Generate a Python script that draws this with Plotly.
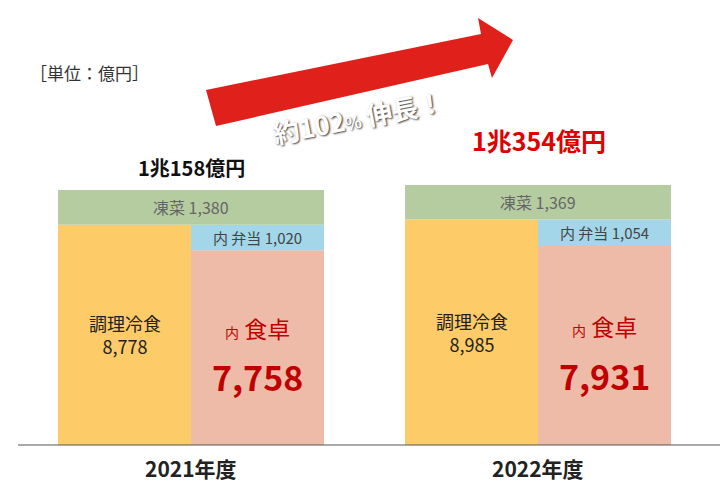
import plotly.graph_objects as go

years = ["2021年度", "2022年度"]
reitou = [8778, 8985]      # 調理冷食
shokutaku = [7758, 7931]   # 内 食卓
bento = [1020, 1054]       # 内 弁当
tousai = [1380, 1369]      # 凍菜
totals = ["1兆158億円", "1兆354億円"]

cx = [183, 530]
half = 133
F = "Noto Sans CJK JP"
fig = go.Figure()
for i in range(2):
    L, R = cx[i] - half/2, cx[i] + half/2
    fig.add_bar(x=[L], y=[reitou[i]], base=[0], width=half, marker_color="#FDCB68", marker_line_width=0)
    fig.add_bar(x=[R], y=[shokutaku[i]], base=[0], width=half, marker_color="#EDBBA7", marker_line_width=0)
    fig.add_bar(x=[R], y=[bento[i]], base=[shokutaku[i]], width=half, marker_color="#A3D6E8", marker_line_width=0)
    fig.add_bar(x=[cx[i]], y=[tousai[i]], base=[reitou[i]], width=2*half, marker_color="#B5CCA0", marker_line_width=0)
    fig.add_annotation(x=cx[i], y=reitou[i]+tousai[i]/2, text=f"凍菜 {tousai[i]:,}", showarrow=False, font=dict(family=F, size=16, color="#666"))
    fig.add_annotation(x=R, y=shokutaku[i]+bento[i]/2, text=f"内 弁当 {bento[i]:,}", showarrow=False, font=dict(family=F, size=15, color="#444"))
    fig.add_annotation(x=L, y=reitou[i]*0.5, text=f"調理冷食<br>{reitou[i]:,}", showarrow=False, font=dict(family=F, size=18, color="#222"))
    fig.add_annotation(x=R, y=shokutaku[i]*0.6, text="<span style='font-size:14px'>内</span> 食卓", showarrow=False, font=dict(family=F, size=23, color="#C00000"))
    fig.add_annotation(x=R, y=shokutaku[i]*0.35, text=f"<b>{shokutaku[i]:,}</b>", showarrow=False, font=dict(family=F, size=34, color="#C00000"))
    fig.add_annotation(x=cx[i], y=-1250, text=f"<b>{years[i]}</b>", showarrow=False, yshift=8, font=dict(family=F, size=21, color="#222"))

fig.add_annotation(x=cx[0], y=10158+250, yanchor="bottom", text=f"<b>{totals[0]}</b>", showarrow=False, font=dict(family=F, size=20, color="#111"))
fig.add_annotation(x=cx[1]+1, y=11350, yanchor="bottom", text=f"<b>{totals[1]}</b>", showarrow=False, font=dict(family=F, size=25, color="#E00000"))

fig.add_annotation(xref="paper", yref="paper", x=20/728, y=1-50/496, xanchor="left", text="［単位：億円］", showarrow=False, font=dict(family=F, size=17, color="#333"))
# arrow
pts = [(198,82),(473,26),(470,10),(505,32),(484,70),(480,56),(208,118)]
fig.add_shape(type="path", xref="paper", yref="paper", line_width=0, fillcolor="#E0201A", layer="below",
              path="M " + " L ".join("%f %f" % (p[0]/728, 1-p[1]/496) for p in pts) + " Z")
fig.add_annotation(xref="paper", yref="paper", x=350/728, y=1-72/496, text="<b>約102<span style='font-size:17px'>%</span> 伸長！</b>",
                   textangle=-11, showarrow=False, font=dict(family=F, size=26, color="white", shadow="1px 1px 2px #333"))
fig.add_shape(type="line", xref="paper", yref="y", x0=10/728, x1=722/728, y0=0, y1=0, line=dict(color="#555", width=1.2))

fig.update_layout(width=728, height=496, margin=dict(l=0, r=0, t=0, b=0), barmode="overlay",
                  showlegend=False, plot_bgcolor="rgba(0,0,0,0)", paper_bgcolor="white",
                  xaxis=dict(range=[0, 728], visible=False),
                  yaxis=dict(range=[-2350, 17410], visible=False))
fig.write_html("out.html")
